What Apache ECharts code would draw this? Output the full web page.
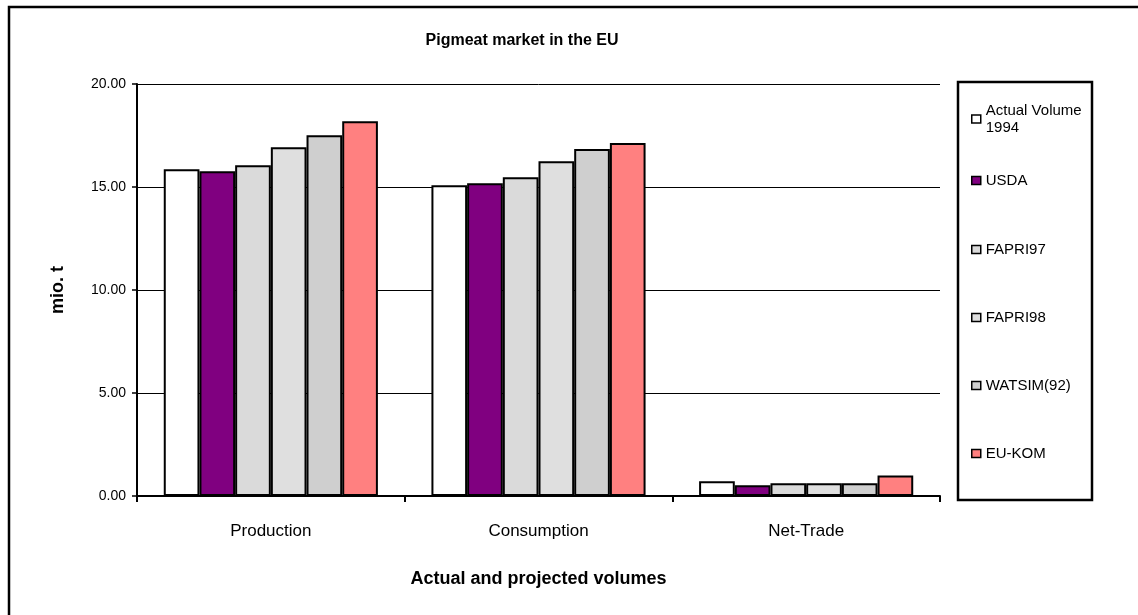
<!DOCTYPE html>
<html>
<head>
<meta charset="utf-8">
<script src="https://cdn.jsdelivr.net/npm/echarts@6/dist/echarts.min.js"></script>
<style>
html,body{margin:0;padding:0;background:#fff;}
#chart{width:1138px;height:615px;}
</style>
</head>
<body>
<div id="chart"></div>
<script>
var categories = ['Production', 'Consumption', 'Net-Trade'];
var seriesNames = ['Actual Volume 1994', 'USDA', 'FAPRI97', 'FAPRI98', 'WATSIM(92)', 'EU-KOM'];
var actual1994 = [15.86, 15.08, 0.71];
var usda = [15.76, 15.18, 0.52];
var fapri97 = [16.05, 15.47, 0.62];
var fapri98 = [16.93, 16.25, 0.62];
var watsim92 = [17.51, 16.84, 0.62];
var euKom = [18.19, 17.14, 1.00];
var yTicks = [0, 5, 10, 15, 20];

var seriesData = [actual1994, usda, fapri97, fapri98, watsim92, euKom];
var colors = ['#FFFFFF', '#800080', '#DADADA', '#DFDFDF', '#CFCFCF', '#FF8080'];
var legendTops = [102, 172, 241, 309, 377, 445];
var FONT = "'Liberation Sans', Arial, sans-serif";

var chart = echarts.init(document.getElementById('chart'), null, {renderer: 'canvas'});

var legends = seriesNames.map(function (n, i) {
  return {
    data: [n],
    left: 971,
    top: legendTops[i],
    padding: 0,
    orient: 'vertical',
    icon: 'rect',
    itemWidth: 9,
    itemHeight: 8,
    selectedMode: false,
    itemStyle: {borderColor: '#000', borderWidth: 1.5},
    formatter: function (name) { return name === 'Actual Volume 1994' ? 'Actual Volume\n1994' : name; },
    textStyle: {fontSize: 15, color: '#000', fontFamily: FONT, lineHeight: 17}
  };
});

var option = {
  backgroundColor: '#fff',
  animation: false,
  title: {
    text: 'Pigmeat market in the EU',
    left: 517,
    top: 28,
    textAlign: 'center',
    textStyle: {fontSize: 16, fontWeight: 'bold', color: '#000', fontFamily: FONT}
  },
  legend: legends,
  grid: {left: 137, right: 198, top: 84, bottom: 119, containLabel: false},
  xAxis: {
    type: 'category',
    data: categories,
    name: 'Actual and projected volumes',
    nameLocation: 'middle',
    nameGap: 74,
    nameTextStyle: {fontSize: 18, fontWeight: 'bold', color: '#000', fontFamily: FONT},
    axisLine: {lineStyle: {color: '#000', width: 2}},
    axisTick: {show: true, length: 6, lineStyle: {color: '#000', width: 2}},
    axisLabel: {fontSize: 17, color: '#000', margin: 27, fontFamily: FONT}
  },
  yAxis: {
    type: 'value',
    min: yTicks[0],
    max: yTicks[yTicks.length - 1],
    interval: 5,
    name: 'mio. t',
    nameLocation: 'middle',
    nameGap: 70,
    nameTextStyle: {fontSize: 18, fontWeight: 'bold', color: '#000', fontFamily: FONT},
    axisLine: {show: true, lineStyle: {color: '#000', width: 2}},
    axisTick: {show: true, length: 5, lineStyle: {color: '#000', width: 1.5}},
    axisLabel: {fontSize: 14, color: '#000', margin: 11, fontFamily: FONT,
      formatter: function (v) { return v.toFixed(2); }},
    splitLine: {show: true, lineStyle: {color: '#000', width: 1}}
  },
  series: seriesNames.map(function (n, i) {
    return {
      name: n,
      type: 'bar',
      data: seriesData[i],
      barGap: '0%',
      barCategoryGap: '20%',
      itemStyle: {color: colors[i], borderColor: '#000', borderWidth: 2}
    };
  }),
  graphic: [
    {type: 'rect', shape: {x: 9, y: 7, width: 1145, height: 625},
      style: {fill: 'none', stroke: '#000', lineWidth: 2.5}, silent: true, z: 100},
    {type: 'rect', shape: {x: 958, y: 82, width: 134, height: 418},
      style: {fill: 'none', stroke: '#000', lineWidth: 2.5}, silent: true, z: 100}
  ]
};
chart.setOption(option);
</script>
</body>
</html>
